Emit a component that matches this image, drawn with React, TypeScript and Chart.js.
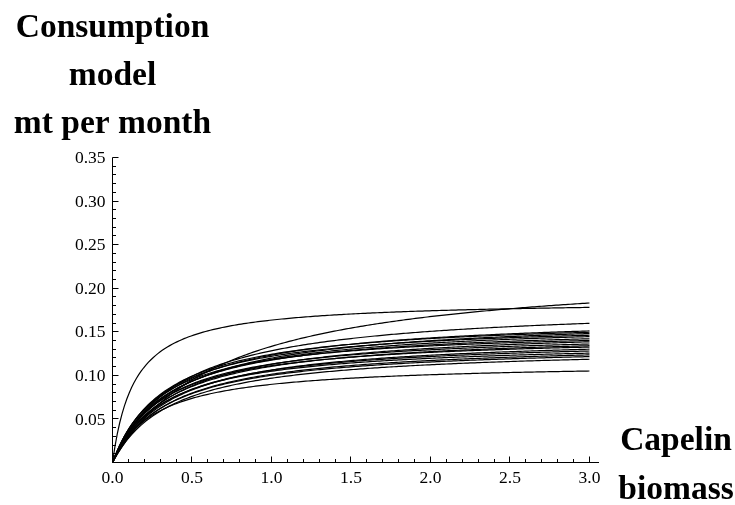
import React, { useEffect, useRef } from "react";
import { Chart, registerables } from "chart.js";

Chart.register(...registerables);

// Holling type II consumption curves: y = maxRate * B / (halfSat + B)
const curveMaxRate = [
  0.1863, 0.225, 0.182, 0.1148,
  0.1701, 0.1664, 0.1677, 0.1621, 0.1623, 0.1586, 0.1545, 0.1565, 0.1514,
  0.1501, 0.1466, 0.1465, 0.1429, 0.1393, 0.1387, 0.1361, 0.1335,
];
const curveHalfSat = [
  0.14, 0.688, 0.419, 0.28,
  0.38, 0.34, 0.4, 0.33, 0.37, 0.35, 0.31, 0.39, 0.34,
  0.36, 0.32, 0.38, 0.35, 0.33, 0.37, 0.36, 0.38,
];
const biomassMax = 3.0;
const biomassSteps = 200;

const yTickLabels = ["0.05", "0.10", "0.15", "0.20", "0.25", "0.30", "0.35"];
const xTickLabels = ["0.0", "0.5", "1.0", "1.5", "2.0", "2.5", "3.0"];
const yTitleLines = ["Consumption", "model", "mt per month"];
const xTitleLines = ["Capelin", "biomass"];

const SERIF = '"Liberation Serif", "Times New Roman", serif';

const axesPlugin = {
  id: "mmaAxes",
  afterDatasetsDraw(chart: any) {
    const { ctx, scales } = chart;
    const xs = scales.x;
    const ys = scales.y;
    const x0 = xs.getPixelForValue(0);
    const y0 = ys.getPixelForValue(0);
    ctx.save();
    ctx.strokeStyle = "#000";
    ctx.fillStyle = "#000";
    ctx.lineWidth = 1;
    // axis lines
    ctx.beginPath();
    ctx.moveTo(chart.chartArea.left, y0);
    ctx.lineTo(chart.chartArea.right, y0);
    ctx.moveTo(x0, y0);
    ctx.lineTo(x0, ys.getPixelForValue(0.35));
    ctx.stroke();

    // y ticks: minor each 0.01, major each 0.05
    ctx.beginPath();
    for (let i = 1; i <= 35; i++) {
      const py = Math.round(ys.getPixelForValue(i / 100) - 0.5) + 0.5;
      const len = i % 5 === 0 ? 6 : 3.5;
      ctx.moveTo(x0, py);
      ctx.lineTo(x0 + len, py);
    }
    // x ticks: minor each 0.1, major each 0.5
    for (let i = 1; i <= 30; i++) {
      const px = Math.round(xs.getPixelForValue(i / 10) - 0.5) + 0.5;
      const len = i % 5 === 0 ? 6 : 3.5;
      ctx.moveTo(px, y0);
      ctx.lineTo(px, y0 - len);
    }
    ctx.stroke();

    // tick labels
    ctx.font = `17.5px ${SERIF}`;
    ctx.textAlign = "right";
    ctx.textBaseline = "middle";
    yTickLabels.forEach((t) => {
      ctx.fillText(t, x0 - 7, ys.getPixelForValue(parseFloat(t)) + 1);
    });
    ctx.textAlign = "center";
    ctx.textBaseline = "top";
    xTickLabels.forEach((t) => {
      ctx.fillText(t, xs.getPixelForValue(parseFloat(t)), y0 + 7);
    });

    // axis titles
    ctx.font = `bold 33.5px ${SERIF}`;
    ctx.textBaseline = "alphabetic";
    ctx.textAlign = "center";
    yTitleLines.forEach((t, i) => {
      ctx.fillText(t, x0, 37 + i * 48);
    });
    xTitleLines.forEach((t, i) => {
      ctx.fillText(t, 676, 450 + i * 48.5);
    });
    ctx.restore();
  },
};

export default function App() {
  const canvasRef = useRef<HTMLCanvasElement | null>(null);

  useEffect(() => {
    const canvas = canvasRef.current;
    if (!canvas) return;
    const datasets = curveMaxRate.map((a, k) => {
      const b = curveHalfSat[k];
      const pts: { x: number; y: number }[] = [];
      for (let i = 0; i <= biomassSteps; i++) {
        const B = (biomassMax * i) / biomassSteps;
        pts.push({ x: B, y: (a * B) / (b + B) });
      }
      return {
        label: `curve ${k + 1}`,
        data: pts,
        borderColor: "#000",
        borderWidth: 1.2,
        pointRadius: 0,
        tension: 0,
        fill: false,
      };
    });

    const chart = new Chart(canvas, {
      type: "line",
      data: { datasets },
      options: {
        animation: false,
        responsive: false,
        events: [],
        layout: { padding: { left: 112.5, right: 136, top: 157.5, bottom: 42.5 } },
        scales: {
          x: { type: "linear", min: 0, max: 3.06, display: false },
          y: { type: "linear", min: 0, max: 0.35, display: false },
        },
        plugins: {
          legend: { display: false },
          tooltip: { enabled: false },
        },
      },
      plugins: [axesPlugin],
    });
    return () => chart.destroy();
  }, []);

  return (
    <div style={{ position: "fixed", left: 0, top: 0, width: 735, height: 505, background: "#fff" }}>
      <canvas ref={canvasRef} width={735} height={505} style={{ width: 735, height: 505 }} />
    </div>
  );
}
